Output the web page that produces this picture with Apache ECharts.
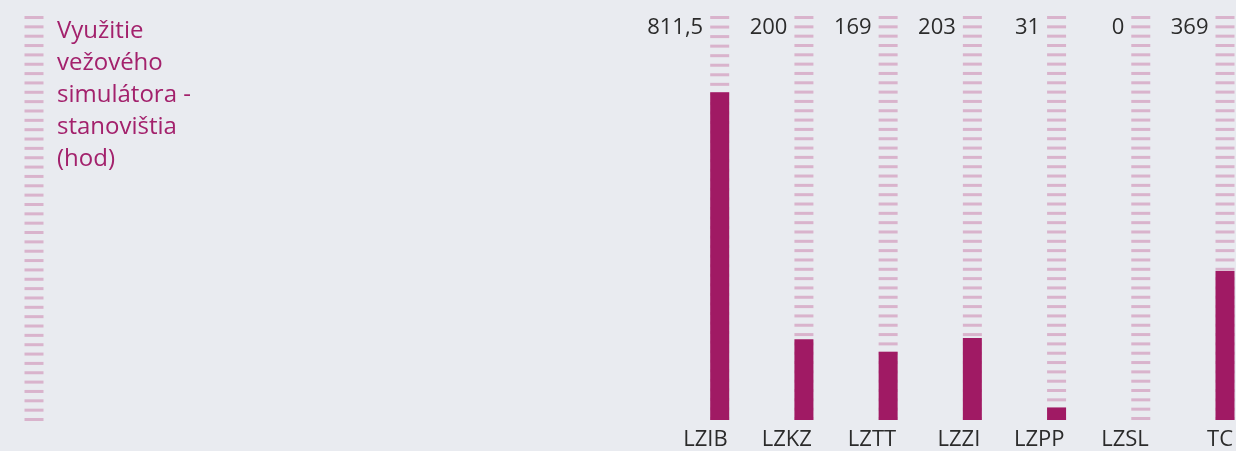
<!DOCTYPE html>
<html>
<head>
<meta charset="utf-8">
<style>
  html, body { margin: 0; padding: 0; background: #e9ebf0; }
  #chart { width: 1236px; height: 451px; }
</style>
<script src="https://cdn.jsdelivr.net/npm/echarts@6/dist/echarts.min.js"></script>
</head>
<body>
<div id="chart"></div>
<script>
const categories = ['LZIB', 'LZKZ', 'LZTT', 'LZZI', 'LZPP', 'LZSL', 'TC'];
const values = [811.5, 200, 169, 203, 31, 0, 369];
const valueLabels = ['811,5', '200', '169', '203', '31', '0', '369'];
const trackMax = 1000;
const titleLines = ['Využitie', 'vežového', 'simulátora -', 'stanovištia', '(hod)'];

const barColor = '#a01a64';
const stripeColor = '#d9b3cc';
const font = 'Open Sans';

const chart = echarts.init(document.getElementById('chart'), null, { renderer: 'canvas' });

const option = {
  backgroundColor: '#e9ebf0',
  animation: false,
  title: {
    text: titleLines.join('\n'),
    left: 57,
    top: 15,
    padding: 0,
    textStyle: { fontFamily: font, fontSize: 24, fontWeight: 'normal', lineHeight: 32, color: '#a3216c' }
  },
  grid: [
    { left: 719.7, right: 10.5, top: 16, bottom: 30, containLabel: false },
    { left: 15, width: 38, top: 16, bottom: 30, containLabel: false }
  ],
  xAxis: [
    {
      type: 'category', gridIndex: 0, data: categories, boundaryGap: false,
      axisLine: { show: false }, axisTick: { show: false }, splitLine: { show: false },
      axisLabel: {
        fontFamily: font, fontSize: 22, color: '#2b2b2b', margin: 9,
        align: 'right', padding: [0, -8, 0, 0]
      }
    },
    {
      type: 'category', gridIndex: 1, data: [''], boundaryGap: true,
      axisLine: { show: false }, axisTick: { show: false }, axisLabel: { show: false }
    }
  ],
  yAxis: [
    { type: 'value', gridIndex: 0, min: 0, max: trackMax, show: false },
    { type: 'value', gridIndex: 1, min: 0, max: trackMax, show: false }
  ],
  series: [
    {
      type: 'pictorialBar', xAxisIndex: 0, yAxisIndex: 0, z: 2, silent: true,
      symbol: 'rect', symbolSize: [19, 3], symbolRepeat: 44,
      symbolBoundingData: trackMax,
      itemStyle: { color: stripeColor },
      data: categories.map((c, i) => ({ value: trackMax, symbolRepeat: i === 0 ? 43 : 44 }))
    },
    {
      type: 'bar', xAxisIndex: 0, yAxisIndex: 0, z: 3, silent: true,
      barWidth: 19,
      itemStyle: { color: barColor },
      data: values
    },
    {
      type: 'scatter', xAxisIndex: 0, yAxisIndex: 0, z: 4, silent: true,
      clip: false,
      symbol: 'rect', symbolSize: 19, itemStyle: { color: 'rgba(0,0,0,0)' },
      label: {
        show: true, position: 'left', distance: 7, offset: [0, 12],
        fontFamily: font, fontSize: 22, color: '#2b2b2b', opacity: 1,
        formatter: p => valueLabels[p.dataIndex]
      },
      data: categories.map(() => trackMax)
    },
    {
      type: 'pictorialBar', xAxisIndex: 1, yAxisIndex: 1, z: 2, silent: true,
      symbol: 'rect', symbolSize: [19, 3], symbolRepeat: 44,
      symbolBoundingData: trackMax,
      itemStyle: { color: stripeColor },
      data: [trackMax]
    }
  ]
};
chart.setOption(option);
</script>
</body>
</html>
